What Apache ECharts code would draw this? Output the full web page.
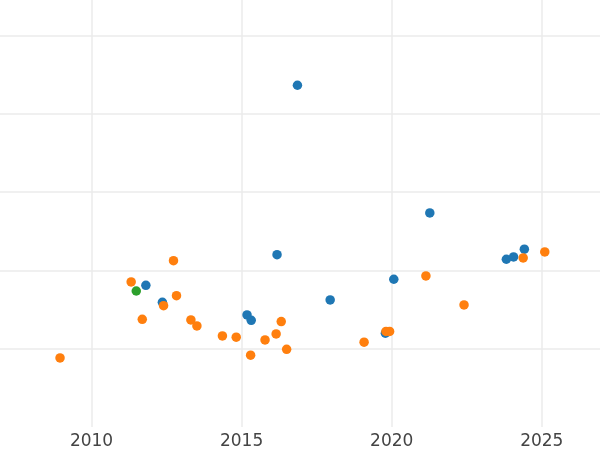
<!DOCTYPE html>
<html>
<head>
<meta charset="utf-8">
<script src="https://cdn.jsdelivr.net/npm/echarts@6/dist/echarts.min.js"></script>
<style>html,body{margin:0;padding:0;background:#fff}#c{width:600px;height:450px}</style>
</head>
<body>
<div id="c"></div>
<script>
// Series data: [year, value] (y axis unitless — no labels in reference)
var blueYears  = [2011.81, 2012.36, 2015.18, 2015.32, 2016.18, 2016.86, 2017.95, 2019.79, 2020.07, 2021.27, 2023.82, 2024.06, 2024.42];
var blueValues = [1.809,   1.592,   1.430,   1.362,   2.200,   4.362,   1.622,   1.197,   1.886,   2.732,   2.141,   2.170,   2.269];

var orangeYears  = [2008.95, 2011.32, 2011.69, 2012.40, 2012.73, 2012.83, 2013.31, 2013.51, 2014.36, 2014.82, 2015.30, 2015.78, 2016.15, 2016.32, 2016.50, 2019.08, 2019.81, 2019.93, 2021.14, 2022.41, 2024.38, 2025.10];
var orangeValues = [0.881,   1.851,   1.375,   1.549,   2.123,   1.676,   1.366,   1.290,   1.162,   1.146,   0.916,   1.111,   1.188,   1.345,   0.992,   1.082,   1.220,   1.220,   1.928,   1.558,   2.158,   2.234];

var greenYears  = [2011.49];
var greenValues = [1.736];

var xTicks = [2010, 2015, 2020, 2025];

function pairs(xs, ys) { return xs.map(function (x, i) { return [x, ys[i]]; }); }

var chart = echarts.init(document.getElementById('c'), null, { renderer: 'canvas' });
var gridColor = '#ebebeb';
chart.setOption({
  animation: false,
  backgroundColor: '#ffffff',
  grid: { left: 0, right: 0, top: 0, bottom: 23, containLabel: false },
  xAxis: {
    type: 'value', min: 2006.95, max: 2026.94,
    axisLine: { show: false },
    axisTick: { show: false, customValues: xTicks },
    axisLabel: {
      color: '#444444', fontSize: 17, fontFamily: 'DejaVu Sans', margin: 6,
      customValues: xTicks,
      formatter: function (v) { return String(v); }
    },
    splitLine: { show: true, lineStyle: { color: gridColor, width: 1.5 } }
  },
  yAxis: {
    type: 'value', min: 0, max: 5.45, interval: 1,
    axisLine: { show: false }, axisTick: { show: false }, axisLabel: { show: false },
    splitLine: { show: true, showMinLine: false, showMaxLine: false, lineStyle: { color: gridColor, width: 1.5 } }
  },
  series: [
    { type: 'scatter', data: pairs(blueYears, blueValues), symbolSize: 9.5, itemStyle: { color: '#1f77b4', opacity: 1 } },
    { type: 'scatter', data: pairs(orangeYears, orangeValues), symbolSize: 9.5, itemStyle: { color: '#ff7f0e', opacity: 1 } },
    { type: 'scatter', data: pairs(greenYears, greenValues), symbolSize: 9.5, itemStyle: { color: '#2ca02c', opacity: 1 } }
  ]
});
</script>
</body>
</html>
